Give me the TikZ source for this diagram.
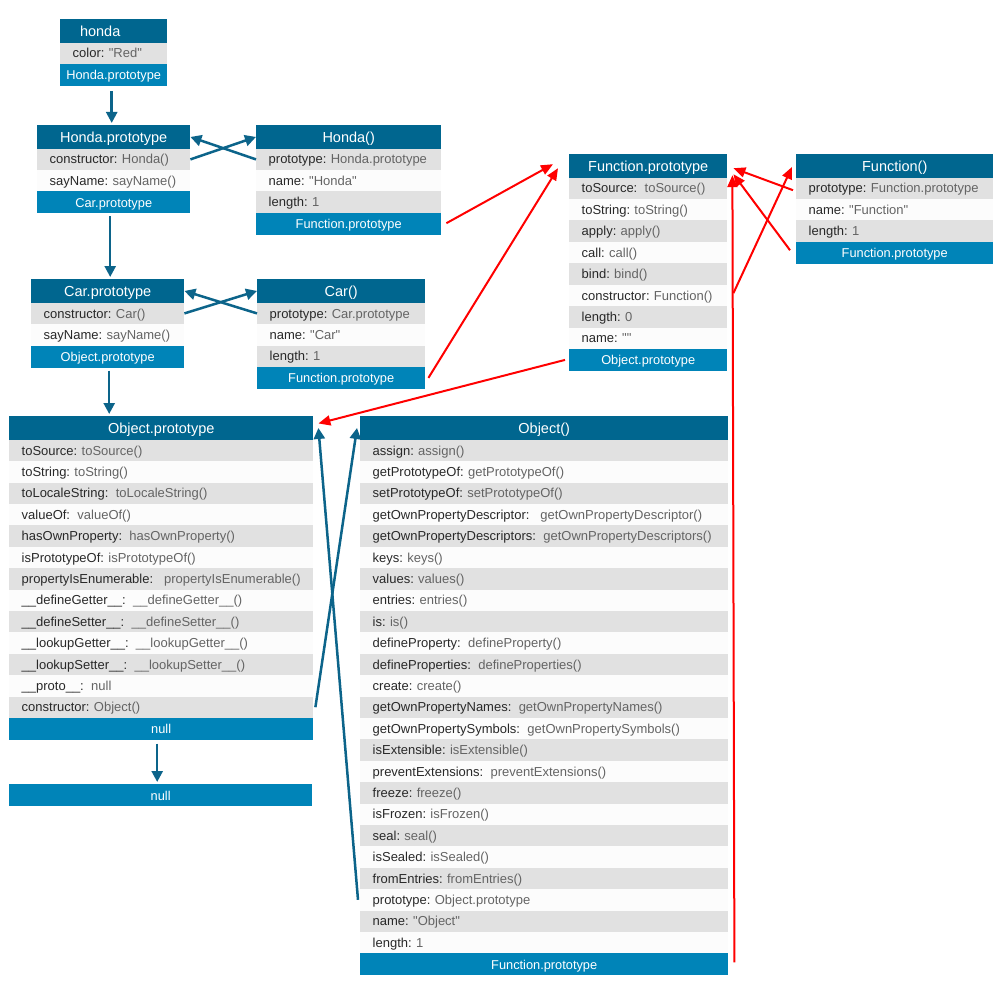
\documentclass[tikz,border=0pt]{standalone}
\usepackage{fontspec}
\setmainfont{Liberation Sans}[Ligatures=TeXOff]
\usetikzlibrary{arrows.meta,calc}

\definecolor{hdrblue}{RGB}{0,102,143}
\definecolor{ftrblue}{RGB}{0,132,184}
\definecolor{rowgray}{RGB}{225,225,225}
\definecolor{rowlight}{RGB}{252,252,252}
\definecolor{keyc}{RGB}{40,40,40}
\definecolor{valc}{RGB}{100,100,100}
\definecolor{linkblue}{RGB}{12,100,138}
\definecolor{linkred}{RGB}{255,0,0}

\tikzset{
  hdr/.style={fill=hdrblue, text=white, font=\fontsize{14.5}{16}\selectfont,
    inner sep=0pt, minimum height=23.5pt, text height=12pt, text depth=1.5pt},
  ftr/.style={fill=ftrblue, text=white, font=\fontsize{12.8}{14}\selectfont,
    inner sep=0pt, minimum height=22pt, text height=11pt, text depth=1.2pt},
  rowbox/.style={inner xsep=12.5pt, inner ysep=0pt, minimum height=21.4pt,
    align=left, font=\fontsize{13}{15}\selectfont, text height=11.2pt, text depth=2pt},
  protolink/.style={draw=linkblue, line width=2.5pt, -{Triangle[length=11pt,width=11pt]}},
  funclink/.style={draw=linkred, line width=2pt, -{Triangle[length=12pt,width=10pt]}},
}

% key: value pair of one property row
\newcommand\kv[2]{\textcolor{keyc}{#1:}\ \textcolor{valc}{#2}}
\newcommand\gA{\hspace{3pt}}
\newcommand\gB{\hspace{6.5pt}}

% object box: #1 name, #2 left x, #3 top y, #4 width, #5 title, #6 rows key/value, #7 footer
\newcommand\objbox[7]{%
  \node[hdr, minimum width=#4pt, anchor=north west] (#1) at (#2,#3) {#5};
  \pgfmathsetmacro\tw{#4-25}%
  \foreach [count=\i] \k/\v in {#6} {
    \pgfmathsetmacro\yy{#3+23.5+(\i-1)*21.4}
    \ifodd\i \def\rf{rowgray}\else\def\rf{rowlight}\fi
    \node[rowbox, fill=\rf, text width=\tw pt, anchor=north west] (#1-\i) at (#2,\yy) {\kv{\k}{\v}};
    \xdef\nrows{\i}
  }
  \pgfmathsetmacro\yf{#3+23.5+\nrows*21.4}%
  \node[ftr, minimum width=#4pt, anchor=north west] (#1-foot) at (#2,\yf) {#7};
}

\begin{document}
\begin{tikzpicture}[x=1pt,y=-1pt]
\fill[white] (0,0) rectangle (1000,1000);
\useasboundingbox (0,0) rectangle (1000,1000);

% instance and constructor chain
\objbox{honda}{60}{19}{107}{honda\hspace*{27pt}}{color/"Red"}{Honda.prototype}
\objbox{hp}{37}{125}{153}{Honda.prototype}{constructor/Honda(), sayName/sayName()}{Car.prototype}
\objbox{hf}{256}{125}{185}{Honda()}{prototype/Honda.prototype, name/"Honda", length/1}{Function.prototype}
\objbox{cp}{31}{279}{153}{Car.prototype}{constructor/Car(), sayName/sayName()}{Object.prototype}
\objbox{cf}{257}{279}{168}{Car()}{prototype/Car.prototype, name/"Car", length/1}{Function.prototype}

% Function
\objbox{fp}{569}{154}{158}{Function.prototype}{toSource/\gA toSource(), toString/toString(), apply/apply(), call/call(), bind/bind(), constructor/Function(), length/0, name/""}{Object.prototype}
\objbox{ff}{796}{154}{197}{Function()}{prototype/Function.prototype, name/"Function", length/1}{Function.prototype}

% Object
\objbox{op}{9}{416}{304}{Object.prototype}{toSource/toSource(), toString/toString(), toLocaleString/\gA toLocaleString(), valueOf/\gA valueOf(), hasOwnProperty/\gA hasOwnProperty(), isPrototypeOf/isPrototypeOf(), propertyIsEnumerable/\gB propertyIsEnumerable(), \_\_defineGetter\_\_/\gA \_\_defineGetter\_\_(), \_\_defineSetter\_\_/\gA \_\_defineSetter\_\_(), \_\_lookupGetter\_\_/\gA \_\_lookupGetter\_\_(), \_\_lookupSetter\_\_/\gA \_\_lookupSetter\_\_(), \_\_proto\_\_/\gA null, constructor/Object()}{null}
\node[ftr, minimum width=303pt, anchor=north west] (nullbox) at (9,784) {null};

\objbox{oc}{360}{416}{368}{Object()}{assign/assign(), getPrototypeOf/getPrototypeOf(), setPrototypeOf/setPrototypeOf(), getOwnPropertyDescriptor/\gB getOwnPropertyDescriptor(), getOwnPropertyDescriptors/\gA getOwnPropertyDescriptors(), keys/keys(), values/values(), entries/entries(), is/is(), defineProperty/\gA defineProperty(), defineProperties/\gA defineProperties(), create/create(), getOwnPropertyNames/\gA getOwnPropertyNames(), getOwnPropertySymbols/\gA getOwnPropertySymbols(), isExtensible/isExtensible(), preventExtensions/\gA preventExtensions(), freeze/freeze(), isFrozen/isFrozen(), seal/seal(), isSealed/isSealed(), fromEntries/fromEntries(), prototype/Object.prototype, name/"Object", length/1}{Function.prototype}

% prototype chain
\draw[protolink, shorten <=5pt, shorten >=2pt] ([xshift=-2pt]honda-foot.south) -- ([xshift=-2pt]hp.north);
\draw[protolink, shorten <=2.5pt, shorten >=2pt] ([xshift=-3.5pt]hp-foot.south) -- ([xshift=2.5pt]cp.north);
\draw[protolink, shorten <=3pt, shorten >=2pt] ([xshift=1.5pt]cp-foot.south) -- ([xshift=1.5pt]cp-foot.south |- op.north);
\draw[protolink, shorten <=3.5pt, shorten >=2pt] ([xshift=-4pt]op-foot.south) -- ([xshift=-4pt]op-foot.south |- nullbox.north);

% constructor / prototype cross links
\draw[protolink] (hp-1.east) -- (hf.west);
\draw[protolink] (hf-1.west) -- (hp.east);
\draw[protolink] (cp-1.east) -- (cf.west);
\draw[protolink] (cf-1.west) -- (cp.east);
\draw[protolink] ([xshift=2pt]op-13.east) -- ([xshift=-3pt]oc.west);
\draw[protolink] ([xshift=-2pt]oc-22.west) -- ([xshift=5pt]op.east);

% links of functions to Function.prototype
\draw[funclink] ([xshift=5pt,yshift=0.7pt]hf-foot.east) -- ([xshift=-16pt,yshift=1.75pt]fp.west);
\draw[funclink] ([xshift=3pt]cf-foot.east) -- ([xshift=-11pt,yshift=-2.25pt]fp.west);
\draw[funclink] ([xshift=-4pt]fp-foot.west) -- ([xshift=5pt,yshift=4.5pt]op.east);
\draw[funclink] ([xshift=-3pt,yshift=-1.8pt]ff-1.west) -- ([xshift=6pt,yshift=-2.25pt]fp.east);
\draw[funclink] ([xshift=-6pt,yshift=2.7pt]ff-foot.west) -- ([xshift=6pt,yshift=-8.25pt]fp.east);
\draw[funclink] ([xshift=6pt,yshift=2.2pt]fp-6.east) -- ([xshift=-4pt,yshift=-1pt]ff.west);
\draw[funclink] ([xshift=6pt,yshift=2pt]oc-foot.east) -- ([xshift=5pt,yshift=-9.25pt]fp.east);
\end{tikzpicture}
\end{document}
